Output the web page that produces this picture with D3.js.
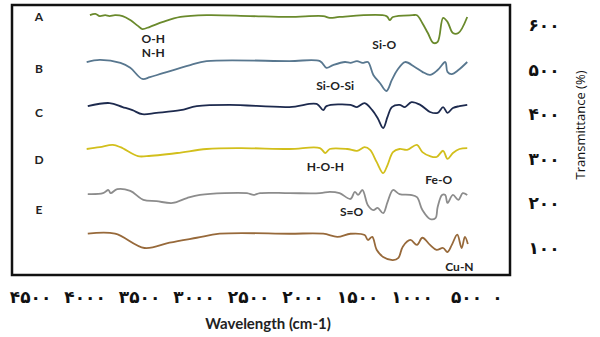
<!DOCTYPE html>
<html>
<head>
<meta charset="utf-8">
<script src="https://cdn.jsdelivr.net/npm/d3@7"></script>
<style>
  body { margin: 0; background: #fff; }
  .lbl { font-family: Lato, 'Open Sans', sans-serif; font-weight: bold; fill: #222; }
  .eje text { font-family: 'DejaVu Sans', sans-serif; font-weight: bold; fill: #111; }
</style>
</head>
<body>
<div id="graf"></div>
<script>
var waveA = [3950,3900,3860,3810,3770,3720,3650,3580,3510,3470,3400,3280,3120,2880,2480,2120,1810,1750,1660,1230,1200,1170,990,950,900,850,800,760,710,670,620,570,480]
var transA = [622,625,620,622,620,622,620,611,598,591,596,607,618,622,620,618,620,616,618,620,611,618,622,622,604,582,560,562,616,607,582,582,618]

var waveB = [3980,3860,3670,3580,3470,3400,3280,3030,2880,2120,1840,1780,1720,1610,1560,1500,1450,1400,1350,1290,1230,1180,1130,1060,970,900,830,760,690,670,630,570,480]
var transB = [517,522,515,504,479,483,492,510,519,519,519,504,510,517,515,519,515,517,488,470,452,477,499,517,506,495,488,499,517,495,490,499,517]

var waveC = [3970,3770,3650,3560,3470,3340,3120,2970,2670,2120,1870,1810,1780,1560,1500,1430,1360,1310,1260,1220,1180,1110,1060,1000,920,830,760,710,670,620,560,480]
var transC = [418,425,416,409,400,403,409,418,421,416,423,409,418,421,416,425,409,391,369,394,416,421,416,427,421,405,403,416,403,414,418,421]

var waveD = [3980,3860,3740,3670,3510,3430,3150,2880,2570,2120,1840,1790,1750,1590,1500,1430,1380,1320,1260,1220,1170,1110,1040,950,900,830,770,710,670,620,560,480]
var transD = [322,326,331,326,306,306,313,322,324,322,324,313,322,322,318,326,320,293,268,286,315,322,320,331,315,306,304,318,300,313,322,324]

var waveE = [3970,3830,3780,3760,3700,3580,3460,3340,3190,3060,2940,2510,2450,2390,2120,1840,1750,1660,1560,1520,1490,1450,1400,1350,1310,1260,1220,1170,1110,1010,950,900,830,780,760,720,690,670,620,570,530,480]
var transE = [221,223,230,223,232,228,208,205,201,212,219,223,219,223,223,223,226,223,210,226,219,230,196,185,190,178,203,230,221,219,214,185,165,167,192,219,219,201,219,208,223,219]

var waveF = [3970,3720,3450,3220,2970,2760,2120,1810,1680,1560,1430,1400,1360,1320,1260,1170,1120,1080,1010,950,900,830,770,710,670,630,580,540,510,470]
var transF = [132,132,100,112,123,132,132,132,125,132,129,118,125,96,80,73,78,103,118,107,123,107,96,100,91,107,130,100,125,109]

var muestras = ['A','B','C','D','E','']
var colores = ['#6a8a2c','#58778f','#1d2a4e','#d2bf1c','#8c8c8c','#97693a']

// etiquetas de bandas
var bandas = ['O-H','N-H','Si-O','Si-O-Si','H-O-H','Fe-O','S=O','Cu-N']
var bandaWave = [3370,3370,1250,1700,1790,750,1550,560]
var bandaTrans = [569,537,555,463,282,252,181,57]

var xTicks = [4500,4000,3500,3000,2500,2000,1500,1000,500,0]
var yTicks = [600,500,400,300,200,100]

var series = [[waveA,transA],[waveB,transB],[waveC,transC],[waveD,transD],[waveE,transE],[waveF,transF]]

var ancho_total = 600, alto_total = 337

var svg = d3.select('#graf').append('svg')
  .attr('width', ancho_total)
  .attr('height', alto_total)

// escalas
var x = d3.scaleLinear()
  .domain([4500, 500, 0])
  .range([30, 466, 497])

var y = d3.scaleLinear()
  .domain([100, 600])
  .range([248, 25])

// cifras persas
function persa(n){
  var dig = '۰۱۲۳۴۵۶۷۸۹'
  return String(n).replace(/[0-9]/g, c => dig[+c])
}

// marco
svg.append('rect')
  .attr('x', 12).attr('y', 5)
  .attr('width', 498).attr('height', 270)
  .attr('fill', 'none')
  .attr('stroke', '#111')
  .attr('stroke-width', 2.5)

var linea = d3.line()
  .x(d => x(d[0]))
  .y(d => y(d[1]))
  .curve(d3.curveCatmullRom.alpha(0.5))

series.forEach((s, i) => {
  var pts = s[0].map((w, j) => [w, s[1][j]])
  svg.append('path')
    .datum(pts)
    .attr('d', linea)
    .attr('fill', 'none')
    .attr('stroke', colores[i])
    .attr('stroke-width', 1.8)
    .attr('stroke-linejoin', 'round')
})

// letras de las muestras
var letraY = [21, 73, 117, 164, 214]
muestras.forEach((m, i) => {
  if(!m) return
  svg.append('text')
    .attr('class', 'lbl')
    .attr('x', 39).attr('y', letraY[i])
    .attr('text-anchor', 'middle')
    .style('font-size', '12px')
    .text(m)
})

// bandas
bandas.forEach((b, i) => {
  svg.append('text')
    .attr('class', 'lbl')
    .attr('x', x(bandaWave[i]))
    .attr('y', y(bandaTrans[i]))
    .attr('dy', '0.35em')
    .attr('text-anchor', 'middle')
    .style('font-size', '12px')
    .text(b)
})

// ejes
var xAxisGroup = svg.append('g')
  .attr('class', 'eje')
  .attr('transform', 'translate(0, 292)')
  .call(d3.axisBottom(x).tickValues(xTicks).tickSize(0).tickFormat(persa))
xAxisGroup.select('.domain').remove()
xAxisGroup.selectAll('text').style('font-size', '17px').attr('dy', '0.35em').attr('y', 5)

var yAxisGroup = svg.append('g')
  .attr('class', 'eje')
  .attr('transform', 'translate(544, 0)')
  .call(d3.axisRight(y).tickValues(yTicks).tickSize(0).tickFormat(persa))
yAxisGroup.select('.domain').remove()
yAxisGroup.selectAll('text').style('font-size', '17px').attr('x', 0).attr('text-anchor', 'middle')

svg.append('text')
  .attr('class', 'lbl')
  .attr('x', 268).attr('y', 329)
  .attr('text-anchor', 'middle')
  .style('font-size', '15px')
  .text('Wavelength (cm-1)')

svg.append('text')
  .attr('transform', 'translate(585, 125) rotate(-90)')
  .attr('text-anchor', 'middle')
  .style('font-family', "'Open Sans', sans-serif")
  .style('font-size', '13px')
  .style('fill', '#111')
  .text('Transmittance (%)')
</script>
</body>
</html>
